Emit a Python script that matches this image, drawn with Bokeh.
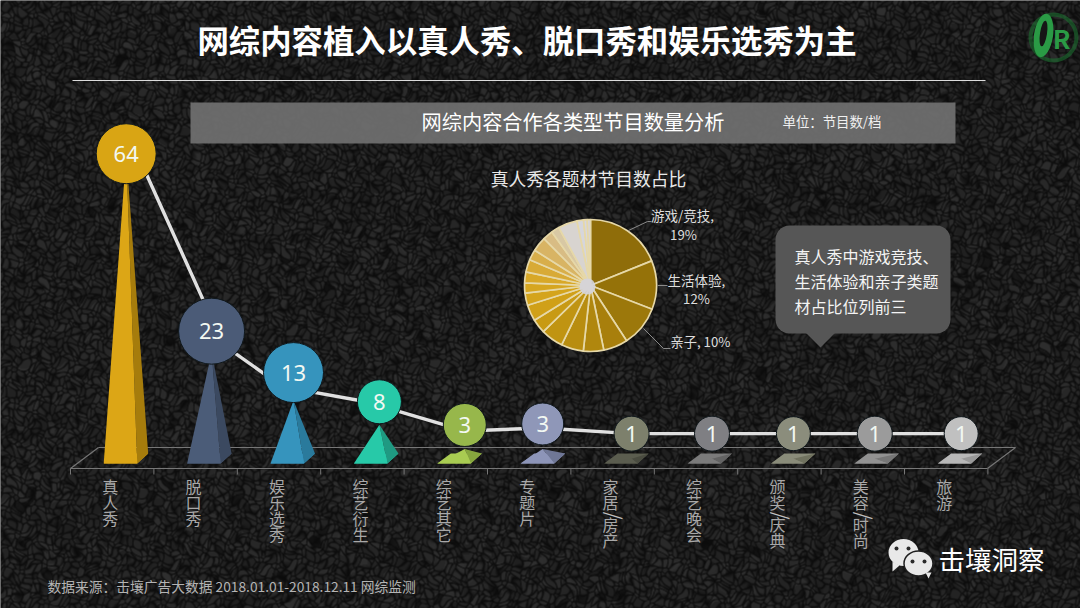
import numpy as np
from bokeh.plotting import figure
from bokeh.models import Range1d
from bokeh.core.properties import value
from bokeh.embed import file_html
from bokeh.resources import INLINE

# ---------- data ----------
categories = ["真人秀", "脱口秀", "娱乐选秀", "综艺衍生", "综艺其它", "专题片",
              "家居/房产", "综艺晚会", "颁奖/庆典", "美容/时尚", "旅游"]
counts = [64, 23, 13, 8, 3, 3, 1, 1, 1, 1, 1]
pie_values = [19, 12, 10, 6, 5, 5.5, 5.5, 3.5, 4, 3, 2.5, 2.7, 3.1, 2.6, 3.6,
              2.5, 2, 4.7, 1.6, 0.9, 0.8]

# ---------- style ----------
front = ["#dca616", "#4b5c78", "#3694bd", "#27c9a8", "#a9cc52", "#8d95b8",
         "#5b5d4f", "#7b7b7b", "#8a8c7a", "#929292", "#b8b8b8"]
side = ["#a67c0c", "#3b4960", "#2a7a9c", "#1f9a82", "#86a63e", "#6f7796",
        "#4a4c40", "#636363", "#70725f", "#777777", "#999999"]
bubble = ["#d9a514", "#4b5b77", "#3694bd", "#27c9a8", "#97b74b", "#8f97b8",
          "#7d806c", "#7f7f83", "#8b8d7c", "#9b9b9b", "#c0c0c0"]
bubble_r = [30, 33, 30, 22, 21.5, 21, 17.5, 17.5, 17, 17.5, 17]
bubble_lift = [0, 21, 28, 23, 24, 25, 25, 25, 25, 25, 25]
bubble_shift = [14, 16, 14.5, 17, 19, 13.5, 19, 16, 14, 12, 15]
line_dx = [11, 12, -11, -13, 0, 0, 0, 0, 0, 0, 0]
line_dy = [0, 14, 14, 0, 6, 4, 0, 0, 0, 0, 0]
pie_colors = ["#8f6d0a", "#957209", "#9c780b", "#a87f0c", "#b0870e", "#b88d10", "#c09412",
              "#c89a14", "#d0a018", "#d4a41c", "#d6a620", "#d8a828", "#d8aa36", "#d8ae4a",
              "#d8b464", "#d8bc84", "#d8c8a4", "#d8d4d0", "#d6d6dc", "#d6d6e0", "#d4d4e2"]

CAT0, CATSTEP = 111.7, 83.4      # pixel of first category, pixels per category
BASE, UNIT = 463.0, 4.84         # pixel of value 0, pixels per unit
L, R, T, B = 0, 1080, 0, 608
SANS = "Noto Sans CJK SC"

p = figure(width=R - L, height=B - T, output_backend="svg", toolbar_location=None,
           x_range=Range1d(L, R), y_range=Range1d(B, T), min_border=0,
           background_fill_color="#1e1e1e", border_fill_color="#1e1e1e")
p.axis.visible = False
p.grid.visible = False
p.outline_line_color = None
p.extra_x_ranges["cat"] = Range1d((L - CAT0) / CATSTEP, (R - CAT0) / CATSTEP)
p.extra_y_ranges["val"] = Range1d((BASE - B) / UNIT, (BASE - T) / UNIT)


def txt(x, y, s, size, color, align="left", baseline="middle", style="normal", lh=1.2):
    p.text([x], [y - 2], text=[s], text_font=value(SANS), text_font_size=f"{size}px",
           text_color=color, text_align=align, text_baseline=baseline,
           text_font_style=style, text_line_height=lh)


def rounded(x0, y0, x1, y1, r, **kw):
    t = np.linspace(0, np.pi / 2, 8)
    xs = np.r_[x1 - r + r * np.sin(t), x1 - r + r * np.cos(t), x0 + r - r * np.sin(t), x0 + r - r * np.cos(t)]
    ys = np.r_[y0 + r - r * np.cos(t), y1 - r + r * np.sin(t), y1 - r + r * np.cos(t), y0 + r - r * np.sin(t)]
    p.patch(xs.tolist(), ys.tolist(), **kw)


# ---------- leather-like backdrop (a decorative texture, not data) ----------
H, W = B - T, R - L
cell = 6.5
yy, xx = np.mgrid[0:H, 0:W].astype(float)
wx = xx + 2.5 * np.sin(yy / 5.3) + 1.5 * np.sin(xx / 3.1 + yy / 7.0)
wy = yy + 2.5 * np.sin(xx / 4.7) + 1.5 * np.cos(yy / 2.9 - xx / 6.0)
ci, cj = np.floor(wx / cell), np.floor(wy / cell)
hash_ = lambda a, b: np.modf(np.abs(np.sin(a * 12.9898 + b * 78.233) * 43758.5453))[0]
ds = []
for di in (-1, 0, 1):
    for dj in (-1, 0, 1):
        a, b = ci + di, cj + dj
        px = (a + hash_(a, b)) * cell
        py = (b + hash_(b + 3.1, a + 7.7)) * cell
        ds.append(np.hypot(wx - px, wy - py))
ds = np.sort(np.stack(ds), axis=0)
edge = np.clip((ds[1] - ds[0]) / cell * 2.6, 0, 1)
shade = 11 + 28 * edge * (0.7 + 0.6 * hash_(ci, cj))
shade = shade.astype(np.uint8)
rgba = np.dstack([shade, shade, shade, np.full_like(shade, 255)])
p.image_rgba(image=[rgba.view(np.uint32).reshape(H, W)], x=L, y=T, dw=W, dh=H)

# ---------- header ----------
txt(526.5, 41, "网综内容植入以真人秀、脱口秀和娱乐选秀为主", 31.4, "#ffffff", "center", style="bold")
p.segment([72], [80], [985], [80], line_color="#dcdcdc", line_width=1)
p.quad(left=[190], right=[955], top=[102], bottom=[143], fill_color="#707070",
       fill_alpha=0.93, line_color=None)
txt(572.5, 122.5, "网综内容合作各类型节目数量分析", 20.2, "#ffffff", "center")
txt(782, 122.5, "单位：节目数/档", 13.4, "#f0f0f0")

# ---------- logo ----------
p.annulus(x=[1053], y=[37], inner_radius=[21], outer_radius=[25], inner_radius_units="screen",
          outer_radius_units="screen", fill_color="#1c6e30", fill_alpha=0.6, line_color=None)
p.ellipse(x=[1043], y=[35], width=[19], height=[44], width_units="screen", height_units="screen",
          angle=[-0.15], fill_color="#2a9a45", line_color=None)
p.ellipse(x=[1043], y=[33], width=[7], height=[26], width_units="screen", height_units="screen",
          angle=[-0.15], fill_color="#161616", line_color=None)
txt(1061, 39, "R", 26, "#2a9a45", "center", style="bold")

# ---------- floor ----------
floor_c = "#777777"
p.segment([70, 98, 70, 987], [468, 447, 468, 468], [987, 1015, 98, 1015], [468, 447, 447, 447],
          line_color=floor_c, line_width=1.2)
bounds = [i - 0.5 for i in range(len(categories) + 1)]
p.segment(bounds, [468] * len(bounds), bounds, [474] * len(bounds), x_range_name="cat",
          line_color=floor_c, line_width=1)

# ---------- pyramids ----------
fl, fr, br, bl = -8.5 / CATSTEP, 25 / CATSTEP, 36 / CATSTEP, 5 / CATSTEP
depth = 10 / UNIT
for i, v in enumerate(counts):
    ax = i + bubble_shift[i] / CATSTEP
    p.patch([i + fl, i + fr, i + br, i + bl], [0, 0, depth, depth], x_range_name="cat", y_range_name="val",
            fill_color=front[i], line_color=None)
    p.patch([i + fr, i + br, ax], [0, depth, v], x_range_name="cat", y_range_name="val",
            fill_color=side[i], line_color=None)
    p.patch([i + fl, i + fr, ax], [0, 0, v], x_range_name="cat", y_range_name="val",
            fill_color=front[i], line_color=None)

# ---------- line & bubbles ----------
bx = [i + s / CATSTEP for i, s in enumerate(bubble_shift)]
by = [v + l / UNIT for v, l in zip(counts, bubble_lift)]
lx = [x + d / CATSTEP for x, d in zip(bx, line_dx)]
ly = [y - d / UNIT for y, d in zip(by, line_dy)]
p.line(lx, ly, x_range_name="cat", y_range_name="val", line_color="#e0e0e0", line_width=3.4)
p.scatter(bx, by, x_range_name="cat", y_range_name="val", size=[2 * r for r in bubble_r],
          fill_color=bubble, line_color="#10181c", line_width=1)
p.text(bx, by, text=[str(v) for v in counts], x_range_name="cat", y_range_name="val",
       text_font=value("Noto Sans"), text_font_size="22px", text_color="#f2f8f2",
       text_align="center", text_baseline="middle")

# ---------- vertical labels ----------
LABEL_TOP, ROW, GAP = 473, 16, 6
lab = dict(x_range_name="cat", text_font=value(SANS), text_font_size="16px", text_color="#a8a8a8",
           text_align="center", text_baseline="top", text_line_height=0.68)
for i, c in enumerate(categories):
    lxp = i - 2 / CATSTEP
    if "/" in c:
        head, tail = c.split("/")
        p.text([lxp], [LABEL_TOP], text=["\n".join(head)], **lab)
        p.text([lxp], [LABEL_TOP + 7 + ROW * len(head) + GAP / 2], text=["/"], angle=[np.pi / 2],
               x_range_name="cat", text_font=value(SANS), text_font_size="20px", text_color="#c0c0c0",
               text_align="center", text_baseline="middle")
        p.text([lxp], [LABEL_TOP + ROW * len(head) + GAP], text=["\n".join(tail)], **lab)
    else:
        p.text([lxp], [LABEL_TOP], text=["\n".join(c)], **lab)

# ---------- pie ----------
PX, PY, PR = 590, 285, 66
fracs = np.array(pie_values) / sum(pie_values)
ends = np.cumsum(fracs)
starts = ends - fracs
p.wedge(x=[PX] * len(fracs), y=[PY] * len(fracs), radius=PR, radius_units="screen",
        start_angle=(np.pi / 2 - 2 * np.pi * starts).tolist(),
        end_angle=(np.pi / 2 - 2 * np.pi * ends).tolist(), direction="clock",
        fill_color=pie_colors, line_color="#e6d8a8", line_width=1.7)
p.scatter([587], [286], size=16, fill_color="#d4d4dc", line_color=None, fill_alpha=0.9)
txt(588, 179, "真人秀各题材节目数占比", 17.8, "#e8e8e8", "center")
leader = "#8a8a8a"
p.line([628, 647, 651], [230, 221, 221], line_color=leader)
p.line([657, 667], [285, 285], line_color=leader)
p.line([643, 663, 670], [328, 348, 348], line_color=leader)
txt(682, 216, "游戏/竞技,", 13.5, "#dddddd", "center")
txt(683, 236, "19%", 13.2, "#dddddd", "center")
txt(696, 281, "生活体验,", 13.5, "#dddddd", "center")
txt(696, 300, "12%", 13.2, "#dddddd", "center")
txt(700, 343, "亲子, 10%", 13.2, "#dddddd", "center")

# ---------- callout ----------
rounded(775, 225, 950, 333, 14, fill_color="#565656", line_color=None)
p.patch([805, 835, 820], [332, 332, 347], fill_color="#565656", line_color=None)
for yy_, s in zip([257, 282, 307], ["真人秀中游戏竞技、", "生活体验和亲子类题", "材占比位列前三"]):
    txt(794, yy_, s, 16, "#f4f4f4")

# ---------- footer ----------
txt(47, 587, "数据来源：击壤广告大数据 2018.01.01-2018.12.11 网综监测", 13.75, "#b4b4b4")
p.ellipse(x=[903], y=[552], width=[30], height=[27], width_units="screen", height_units="screen",
          fill_color="#e8e8e8", line_color=None)
p.patch([892, 899, 892], [561, 565, 571], fill_color="#e8e8e8", line_color=None)
p.ellipse(x=[918], y=[563], width=[29], height=[25], width_units="screen", height_units="screen",
          fill_color="#e8e8e8", line_color="#1e1e1e", line_width=1.5)
p.patch([925, 928, 931], [572, 578, 572], fill_color="#e8e8e8", line_color=None)
p.scatter([896, 908, 912, 924], [548, 548, 561, 561], size=4, fill_color="#2a2a2a", line_color=None)
txt(938, 560, "击壤洞察", 26.5, "#ffffff")

open("out.html", "w").write(file_html(p, INLINE))
